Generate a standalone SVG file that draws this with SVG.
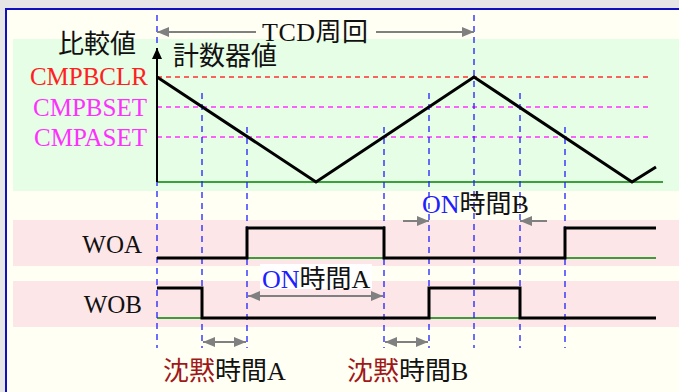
<svg xmlns="http://www.w3.org/2000/svg" width="679" height="392" viewBox="0 0 679 392">
<defs>
<style>
text{font-family:"Liberation Serif","Noto Sans CJK JP",serif;font-size:25px;fill:#111}
.cj{font-size:26px}
.vd{stroke:#2020ff;stroke-width:1.3;stroke-dasharray:6,5;fill:none}
.wave{stroke:#000;stroke-width:3;fill:none;stroke-linejoin:miter}
.base{stroke:#008000;stroke-width:1.5;fill:none}
.gar{stroke:#808080;stroke-width:2;fill:none}
.red{fill:#ff2020}
.mag{fill:#ff30ff}
.blu{fill:#2020ff}
.mar{fill:#a01818}
</style>
<marker id="ah" viewBox="0 0 12 10" refX="12" refY="5" markerWidth="12" markerHeight="10" orient="auto-start-reverse" markerUnits="userSpaceOnUse">
<path d="M0,0 L12,5 L0,10 z" fill="#808080"/>
</marker>
<marker id="ak" viewBox="0 0 11 10" refX="11" refY="5" markerWidth="11" markerHeight="10" orient="auto" markerUnits="userSpaceOnUse">
<path d="M0,0 L11,5 L0,10 z" fill="#000"/>
</marker>
</defs>
<rect x="0" y="0" width="679" height="392" fill="#e6e6e6"/>
<rect x="6" y="9" width="680" height="390" fill="#fffff4" stroke="#1010c0" stroke-width="2"/>
<g id="bands">
<rect x="13" y="39" width="666" height="152" fill="#e6fde6"/>
<rect x="13" y="220" width="666" height="46" fill="#fde6e8"/>
<rect x="13" y="281" width="666" height="46" fill="#fde6e8"/>
</g>
<g id="levels">
<line x1="157" y1="77" x2="652" y2="77" stroke="#ff3030" stroke-width="1.3" stroke-dasharray="5,4"/>
<line x1="157" y1="107" x2="652" y2="107" stroke="#ff30ff" stroke-width="1.3" stroke-dasharray="5,4"/>
<line x1="157" y1="137" x2="652" y2="137" stroke="#ff30ff" stroke-width="1.3" stroke-dasharray="5,4"/>
<line x1="157" y1="182" x2="663" y2="182" class="base"/>
<line x1="157" y1="258" x2="656" y2="258" class="base"/>
<line x1="157" y1="318" x2="656" y2="318" class="base"/>
</g>
<g id="gridlines">
<line x1="157" y1="15" x2="157" y2="348" class="vd"/>
<line x1="202" y1="93" x2="202" y2="348" class="vd"/>
<line x1="247" y1="127" x2="247" y2="348" class="vd"/>
<line x1="384" y1="127" x2="384" y2="348" class="vd"/>
<line x1="429" y1="93" x2="429" y2="348" class="vd"/>
<line x1="474" y1="15" x2="474" y2="348" class="vd"/>
<line x1="520" y1="93" x2="520" y2="348" class="vd"/>
<line x1="565" y1="127" x2="565" y2="348" class="vd"/>
</g>
<g id="axis">
<line x1="157" y1="182" x2="157" y2="48" stroke="#000" stroke-width="2" marker-end="url(#ak)"/>
</g>
<g id="counter">
<polyline class="wave" points="157,77 316,182 474,77 632,182 656,167"/>
</g>
<g id="WOA">
<polyline class="wave" points="157,258 247,258 247,228 384,228 384,258 565,258 565,228 656,228"/>
</g>
<g id="WOB">
<polyline class="wave" points="157,288 202,288 202,318 429,318 429,288 520,288 520,318 656,318"/>
</g>
<g id="connectors">
<line x1="256" y1="32" x2="157" y2="32" class="gar" marker-end="url(#ah)"/>
<line x1="376" y1="32" x2="474" y2="32" class="gar" marker-end="url(#ah)"/>
<line x1="248" y1="296" x2="383" y2="296" class="gar" marker-start="url(#ah)" marker-end="url(#ah)"/>
<line x1="403" y1="221" x2="429" y2="221" class="gar" marker-end="url(#ah)"/>
<line x1="547" y1="221" x2="520" y2="221" class="gar" marker-end="url(#ah)"/>
<line x1="203" y1="342" x2="246" y2="342" class="gar" marker-start="url(#ah)" marker-end="url(#ah)"/>
<line x1="385" y1="342" x2="428" y2="342" class="gar" marker-start="url(#ah)" marker-end="url(#ah)"/>
</g>
<g id="labels">
<text x="262" y="41" class="cj" textLength="106">TCD周回</text>
<text x="58" y="53" class="cj">比較値</text>
<text x="173" y="65" class="cj">計数器値</text>
<text x="148" y="85" text-anchor="end" class="red">CMPBCLR</text>
<text x="147" y="116" text-anchor="end" class="mag">CMPBSET</text>
<text x="147" y="146" text-anchor="end" class="mag">CMPASET</text>
<text x="142" y="253" text-anchor="end">WOA</text>
<text x="142" y="313" text-anchor="end">WOB</text>
<rect x="260" y="264" width="112" height="25" fill="#ffffff"/>
<text x="262" y="288" class="cj"><tspan class="blu">ON</tspan>時間A</text>
<text x="422" y="213" class="cj"><tspan class="blu">ON</tspan>時間B</text>
<text x="163" y="380" class="cj"><tspan class="mar">沈黙</tspan>時間A</text>
<text x="347" y="380" class="cj"><tspan class="mar">沈黙</tspan>時間B</text>
</g>
</svg>
